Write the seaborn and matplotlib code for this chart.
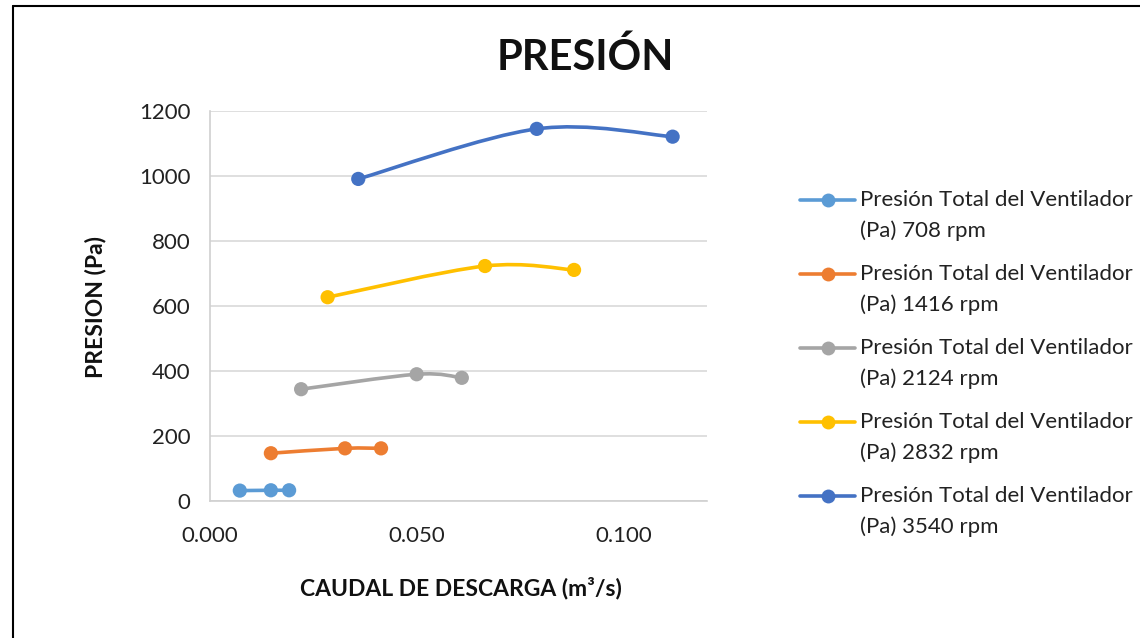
import numpy as np
import pandas as pd
import matplotlib as mpl
mpl.use("Agg")
import matplotlib.pyplot as plt
from matplotlib.path import Path
from matplotlib.patches import PathPatch
from matplotlib.lines import Line2D
import seaborn as sns

sns.set_style("white")
plt.rcParams['font.family'] = ['Lato', 'DejaVu Sans']

# datos
rpm = ["708", "1416", "2124", "2832", "3540"]
caudal_708 = [0.0072, 0.0147, 0.0191]
presion_708 = [32, 33, 33]
caudal_1416 = [0.0147, 0.0326, 0.0413]
presion_1416 = [147, 162, 162]
caudal_2124 = [0.0220, 0.0499, 0.0608]
presion_2124 = [344, 390, 379]
caudal_2832 = [0.0284, 0.0664, 0.0879]
presion_2832 = [627, 723, 711]
caudal_3540 = [0.0358, 0.0789, 0.1117]
presion_3540 = [991, 1145, 1121]

caudales = [caudal_708, caudal_1416, caudal_2124, caudal_2832, caudal_3540]
presiones = [presion_708, presion_1416, presion_2124, presion_2832, presion_3540]
colores = ["#5B9BD5", "#ED7D31", "#A5A5A5", "#FFC000", "#4472C4"]
etiquetas = ["Presión Total del Ventilador\n(Pa) " + r + " rpm" for r in rpm]

filas = []
for r, xs, ys in zip(rpm, caudales, presiones):
    for x, y in zip(xs, ys):
        filas.append((r, x, y))
datos = pd.DataFrame(filas, columns=["rpm", "caudal", "presion"])


# linea suavizada estilo Excel (bezier con puntos de control)
def curva_suave(xs, ys):
    p = np.column_stack([xs, ys]).astype(float)
    n = len(p)
    verts = [p[0]]
    codes = [Path.MOVETO]
    for i in range(n - 1):
        p0 = p[i - 1] if i > 0 else p[i]
        p3 = p[i + 2] if i + 2 < n else p[i + 1]
        c1 = p[i] + (p[i + 1] - p0) / 6.0
        c2 = p[i + 1] - (p3 - p[i]) / 6.0
        verts += [c1, c2, p[i + 1]]
        codes += [Path.CURVE4] * 3
    return Path(verts, codes)


fig = plt.figure(figsize=(11.4, 6.38), dpi=100)
ax = fig.add_axes([210 / 1140, 1 - 501 / 638, (707 - 210) / 1140, (501 - 111) / 638])

for xs, ys, c in zip(caudales, presiones, colores):
    ax.add_patch(PathPatch(curva_suave(xs, ys), facecolor="none", edgecolor=c,
                           lw=2.6, capstyle="round", zorder=3))

sns.scatterplot(data=datos, x="caudal", y="presion", hue="rpm", palette=colores,
                s=105, edgecolor="none", legend=False, zorder=4, ax=ax)

ax.set_xlim(0, 0.12)
ax.set_ylim(0, 1200)
ax.set_xticks([0, 0.05, 0.1])
ax.set_xticklabels(["0.000", "0.050", "0.100"])
ax.set_yticks(range(0, 1201, 200))
ax.yaxis.grid(True, color="#D9D9D9", lw=1.2)
ax.xaxis.grid(False)
ax.set_xlabel("")
ax.set_ylabel("")
ax.tick_params(axis="both", labelsize=16, colors="#222222", length=0)
ax.tick_params(axis="y", pad=14)
ax.tick_params(axis="x", pad=18)
for s in ["top", "right"]:
    ax.spines[s].set_visible(False)
for s in ["left", "bottom"]:
    ax.spines[s].set_color("#D0D0D0")
    ax.spines[s].set_linewidth(1.2)

fig.text(585 / 1140, 1 - 57 / 638, "PRESIÓN", fontsize=30, fontweight="bold",
         ha="center", va="center", color="#111111")
fig.text(461 / 1140, 1 - 588 / 638, "CAUDAL DE DESCARGA (m³/s)", fontsize=16.5,
         fontweight="bold", ha="center", va="center", color="#111111")
fig.text(95 / 1140, 1 - 307 / 638, "PRESION (Pa)", fontsize=16.5, fontweight="bold",
         rotation=90, ha="center", va="center", color="#111111")

# leyenda dibujada a mano
for i, (c, et) in enumerate(zip(colores, etiquetas)):
    yl = 1 - (200 + 74 * i) / 638
    fig.add_artist(Line2D([800 / 1140, 855 / 1140], [yl, yl], color=c, lw=2.6,
                          transform=fig.transFigure))
    fig.add_artist(Line2D([827.5 / 1140], [yl], color=c, marker="o", ms=10,
                          mec="none", transform=fig.transFigure))
    fig.text(860 / 1140, yl, et.split("\n")[0], fontsize=16, ha="left",
             va="center", color="#222222")
    fig.text(860 / 1140, yl - 31 / 638, et.split("\n")[1], fontsize=16, ha="left",
             va="center", color="#222222")

# marco
fig.add_artist(Line2D([13 / 1140, 13 / 1140], [0, 1 - 6 / 638], color="black",
                      lw=1.5, transform=fig.transFigure))
fig.add_artist(Line2D([13 / 1140, 1], [1 - 6 / 638, 1 - 6 / 638], color="black",
                      lw=1.5, transform=fig.transFigure))

fig.savefig("out.png", dpi=100)
